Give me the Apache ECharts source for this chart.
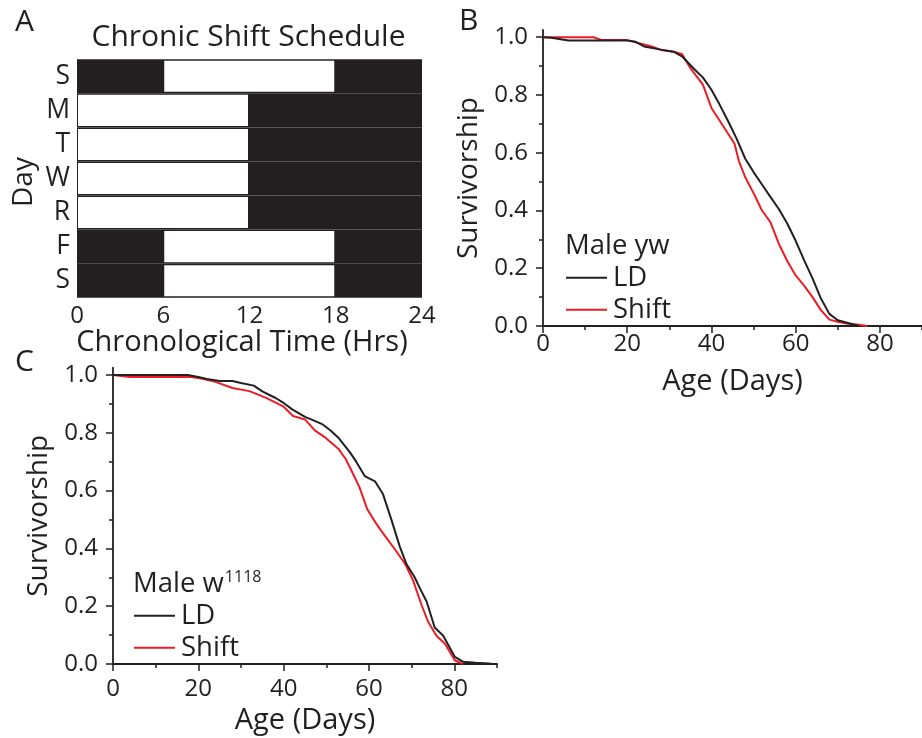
<!DOCTYPE html>
<html>
<head>
<meta charset="utf-8">
<script src="https://cdn.jsdelivr.net/npm/echarts@6/dist/echarts.min.js"></script>
<style>
  html, body { margin: 0; padding: 0; background: #ffffff; }
  #chart { width: 922px; height: 738px; }
</style>
</head>
<body>
<div id="chart"></div>
<script>
// ---- Panel A: weekly light schedule (hours of lights-on per day) ----
const scheduleDays = ['S', 'M', 'T', 'W', 'R', 'F', 'S'];
const lightsOn  = [6, 0, 0, 0, 0, 6, 6];
const lightsOff = [18, 12, 12, 12, 12, 18, 18];
const hourTicks = [0, 6, 12, 18, 24];

// ---- Survival axes ----
const ageTicks = [0, 20, 40, 60, 80];
const survTicks = [0, 0.2, 0.4, 0.6, 0.8, 1.0];

// ---- Panel B: Male yw, [age (days), fraction surviving] ----
const ywLD = [
  [0, 1.0], [2, 0.998], [6, 0.989], [20, 0.989], [22, 0.984], [24, 0.968], [28, 0.957],
  [31, 0.95], [33, 0.934], [36, 0.888], [38, 0.86], [40, 0.818], [42, 0.765],
  [44, 0.708], [46, 0.648], [48, 0.58], [50, 0.533], [52, 0.49], [54, 0.447],
  [56, 0.405], [58, 0.355], [60, 0.295], [62, 0.228], [64, 0.165], [66, 0.095],
  [68, 0.042], [70, 0.02], [72, 0.012], [75, 0.0]
];
const ywShift = [
  [0, 1.0], [12, 1.0], [14, 0.99], [20, 0.99], [23.5, 0.977], [26, 0.967], [28, 0.956],
  [31, 0.95], [33, 0.942], [35, 0.893], [38, 0.835], [40, 0.755], [42, 0.71],
  [44, 0.665], [45.5, 0.63], [46.5, 0.572], [48, 0.516], [50, 0.46], [52, 0.40],
  [54, 0.36], [56, 0.285], [58, 0.225], [60, 0.175], [62, 0.14], [64, 0.1],
  [66, 0.055], [68, 0.022], [70, 0.015], [72, 0.009], [75, 0.004], [77, 0.0]
];

// ---- Panel C: Male w1118, [age (days), fraction surviving] ----
const w1118LD = [
  [0, 1.0], [17.5, 1.0], [20, 0.993], [22, 0.986], [25, 0.979], [28, 0.979], [30, 0.972],
  [33, 0.963], [35, 0.943], [38, 0.921], [40, 0.903], [42, 0.881], [45, 0.855],
  [47, 0.843], [49, 0.83], [51, 0.808], [53, 0.78], [55.5, 0.733], [57, 0.70],
  [59, 0.65], [61.4, 0.632], [63.3, 0.587], [65.3, 0.497], [67.2, 0.407],
  [68.8, 0.345], [70.7, 0.30], [72, 0.26], [73.5, 0.216], [75.4, 0.126],
  [77.4, 0.098], [78.8, 0.06], [80.1, 0.025], [82, 0.008], [85, 0.004], [88, 0.002], [89, 0.0]
];
const w1118Shift = [
  [0, 1.0], [4, 0.993], [18, 0.994], [21, 0.987], [24, 0.976], [28, 0.955], [32, 0.944],
  [36, 0.92], [40, 0.89], [42.2, 0.858], [45, 0.846], [47.3, 0.808], [49.6, 0.785],
  [52.8, 0.745], [54.5, 0.71], [56, 0.666], [57.8, 0.61], [59.6, 0.535], [61.5, 0.49],
  [63.3, 0.452], [66.4, 0.39], [68.5, 0.345], [70.3, 0.29], [72.3, 0.205],
  [73.8, 0.148], [75.8, 0.098], [77.8, 0.07], [80.1, 0.013], [82, 0.0]
];

const FONT = '"Open Sans", "Liberation Sans", sans-serif';
const INK = '#231f20';
const RED = '#ed1c24';

const midpoints = arr => arr.slice(0, -1).map((v, i) => +((v + arr[i + 1]) / 2).toFixed(3));
const ageMinor = ageTicks.map(v => v + 10);
const survMinor = midpoints(survTicks);

const chart = echarts.init(document.getElementById('chart'), null, { renderer: 'canvas' });

const scheduleRows = scheduleDays.map((d, i) => [i, lightsOn[i], lightsOff[i]]);

function survivalX(grid, name, nameGap, labelMargin) {
  return [
    {
      type: 'value', gridIndex: grid, position: 'bottom', min: 0, max: 90,
      name: name, nameLocation: 'middle', nameGap: nameGap,
      nameTextStyle: { fontFamily: FONT, fontSize: 29, color: INK },
      axisLine: { show: true, lineStyle: { color: INK, width: 1.8 } },
      axisTick: { show: true, customValues: ageTicks, length: 7, lineStyle: { color: INK, width: 1.5 } },
      axisLabel: { customValues: ageTicks, margin: labelMargin, fontFamily: FONT, fontSize: 24, color: INK },
      splitLine: { show: false }
    },
    {
      type: 'value', gridIndex: grid, position: 'bottom', min: 0, max: 90,
      axisLine: { show: false },
      axisTick: { show: true, customValues: ageMinor, length: 4, lineStyle: { color: INK, width: 1.5 } },
      axisLabel: { show: false },
      splitLine: { show: false }
    }
  ];
}

function survivalY(grid) {
  return [
    {
      type: 'value', gridIndex: grid, position: 'left', min: 0, max: 1.025,
      name: 'Survivorship', nameLocation: 'middle', nameGap: 60, nameRotate: 90,
      nameTextStyle: { fontFamily: FONT, fontSize: 28, color: INK },
      axisLine: { show: true, lineStyle: { color: INK, width: 1.8 } },
      axisTick: { show: true, customValues: survTicks, length: 7, lineStyle: { color: INK, width: 1.5 } },
      axisLabel: { customValues: survTicks, margin: 15, fontFamily: FONT, fontSize: 24, color: INK,
                   formatter: v => v.toFixed(1) },
      splitLine: { show: false }
    },
    {
      type: 'value', gridIndex: grid, position: 'left', min: 0, max: 1.025,
      axisLine: { show: false },
      axisTick: { show: true, customValues: survMinor, length: 4, lineStyle: { color: INK, width: 1.5 } },
      axisLabel: { show: false },
      splitLine: { show: false }
    }
  ];
}

function curve(name, data, color, xi, yi) {
  return {
    type: 'line', name: name, data: data, xAxisIndex: xi, yAxisIndex: yi,
    symbol: 'none', smooth: false, color: color,
    lineStyle: { color: color, width: 2 }, z: name === 'LD' ? 3 : 2,
    emphasis: { disabled: true }
  };
}

function legendAt(left, top) {
  return {
    left: left, top: top, orient: 'vertical', padding: 0, itemGap: 0,
    itemWidth: 41, itemHeight: 2, icon: 'rect', selectedMode: false,
    data: ['LD', 'Shift'],
    textStyle: { fontFamily: FONT, fontSize: 27.5, color: INK, lineHeight: 32, padding: [0, 0, 0, 1] }
  };
}

function text(str, x, y, size, align, extra) {
  return Object.assign({
    type: 'text', x: x, y: y,
    style: { text: str, fontFamily: FONT, fontSize: size, fill: INK,
             textAlign: align || 'left', textVerticalAlign: 'middle' }
  }, extra || {});
}

const option = {
  backgroundColor: '#ffffff',
  animation: false,
  textStyle: { fontFamily: FONT },
  grid: [
    { left: 77, top: 59.3, width: 345, height: 238.4 },
    { left: 543, top: 30, width: 385, height: 296 },
    { left: 113, top: 367.7, width: 384, height: 296.3 }
  ],
  xAxis: [
    {
      type: 'value', gridIndex: 0, min: 0, max: 24, interval: 6,
      name: 'Chronological Time (Hrs)', nameLocation: 'middle', nameGap: 25,
      nameTextStyle: { fontFamily: FONT, fontSize: 29, color: INK, padding: [0, 15, 0, 0] },
      axisLine: { show: false }, axisTick: { show: false },
      axisLabel: { customValues: hourTicks, margin: 6, fontFamily: FONT, fontSize: 24, color: INK },
      splitLine: { show: false }
    },
    ...survivalX(1, 'Age (Days)', 41.5, 6),
    ...survivalX(2, 'Age (Days)', 42.5, 13)
  ],
  yAxis: [
    {
      type: 'category', gridIndex: 0, data: scheduleDays, inverse: true,
      name: 'Day', nameLocation: 'middle', nameGap: 39, nameRotate: 90,
      nameTextStyle: { fontFamily: FONT, fontSize: 28, color: INK, padding: [0, 7, 0, 0] },
      axisLine: { show: false }, axisTick: { show: false },
      axisLabel: { interval: 0, hideOverlap: false, margin: 7, fontFamily: FONT, fontSize: 26.5, color: INK },
      splitLine: { show: false }
    },
    ...survivalY(1),
    ...survivalY(2)
  ],
  legend: [legendAt(566, 261.7), legendAt(134, 599.7)],
  series: [
    {
      type: 'custom', name: 'schedule', xAxisIndex: 0, yAxisIndex: 0,
      data: scheduleRows, encode: { y: 0, x: [1, 2] }, silent: true,
      renderItem: function (params, api) {
        const row = api.value(0);
        const start = api.coord([0, row]);
        const end = api.coord([24, row]);
        const on = api.coord([api.value(1), row]);
        const off = api.coord([api.value(2), row]);
        const band = api.size([0, 1])[1];
        const top = start[1] - band / 2;
        return {
          type: 'group',
          children: [
            { type: 'rect', shape: { x: start[0], y: top, width: end[0] - start[0], height: band },
              style: { fill: INK } },
            { type: 'rect', shape: { x: on[0] + 1, y: top + 1.5, width: off[0] - on[0] - 2.5, height: band - 3 },
              style: { fill: '#ffffff' } }
          ]
        };
      }
    },
    curve('Shift', ywShift, RED, 1, 1),
    curve('LD', ywLD, INK, 1, 1),
    curve('Shift', w1118Shift, RED, 3, 3),
    curve('LD', w1118LD, INK, 3, 3)
  ],
  graphic: [
    text('A', 15, 22.5, 30),
    text('B', 459, 21.5, 30),
    text('C', 15, 362, 30),
    text('Chronic Shift Schedule', 248.5, 37, 30, 'center'),
    text('Male yw', 565, 246, 27.5),
    {
      type: 'text', x: 133, y: 584,
      style: {
        text: '{b|Male w}{s|1118}', fontFamily: FONT, fill: INK,
        textAlign: 'left', textVerticalAlign: 'middle',
        rich: {
          b: { fontFamily: FONT, fontSize: 27.5, fill: INK, color: INK },
          s: { fontFamily: FONT, fontSize: 16, fill: INK, color: INK, verticalAlign: 'top', padding: [0, 0, 14, 1] }
        }
      }
    }
  ]
};

chart.setOption(option);
</script>
</body>
</html>
